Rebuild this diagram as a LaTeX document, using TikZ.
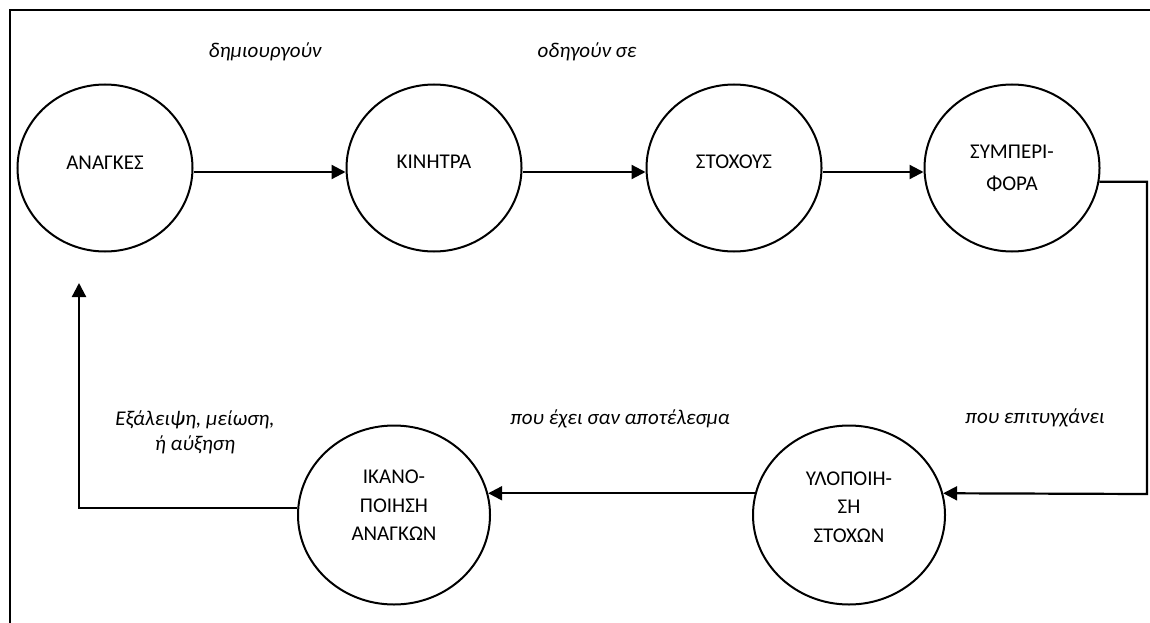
\documentclass[tikz,border=0pt]{standalone}
\usepackage{fontspec}
\setmainfont{Carlito}
\usetikzlibrary{arrows.meta,shapes.geometric}
\tikzset{
    bubble/.style={draw,line width=2pt,ellipse,inner sep=0pt,align=center,
        minimum width=175pt,minimum height=167pt,font=\fontsize{21}{28.5}\selectfont},
    big/.style={minimum width=192pt,minimum height=179pt},
    flow/.style={line width=2.2pt,-{Triangle[length=14pt,width=14pt]}},
    verb/.style={font=\fontsize{21}{25}\selectfont\itshape,align=center}
}
\begin{document}
\begin{tikzpicture}[x=1pt,y=-1pt]
    \useasboundingbox (0,0) rectangle (1150,623);
    \draw[line width=1.8pt] (10,623) -- (10,10) -- (1150,10);

    \node[bubble,text depth=10pt] (needs) at (105,168) {ΑΝΑΓΚΕΣ};
    \node[bubble,text depth=12pt] (drives) at (434,168) {ΚΙΝΗΤΡΑ};
    \node[bubble,text depth=12pt] (goals) at (734,168) {ΣΤΟΧΟΥΣ};
    \node[bubble,text depth=-24pt] (behav) at (1012,168) {ΣΥΜΠΕΡΙ-\\[4pt]ΦΟΡΑ};
    \node[bubble,big,text depth=16pt] (reach) at (849,515) {ΥΛΟΠΟΙΗ-\\ΣΗ\\ΣΤΟΧΩΝ};
    \node[bubble,big,text depth=19pt] (satis) at (394,515) {ΙΚΑΝΟ-\\ΠΟΙΗΣΗ\\ΑΝΑΓΚΩΝ};

    \coordinate (turnR) at (1147,494);
    \coordinate (tipL) at (79,283);

    \draw[flow] ([yshift=-4pt]needs.east) -- ([yshift=-4pt]drives.west);
    \draw[flow] ([yshift=-4pt]drives.east) -- ([yshift=-4pt]goals.west);
    \draw[flow] ([yshift=-4pt]goals.east) -- ([yshift=-4pt]behav.west);
    \draw[flow] (behav.-9) -| (turnR) -- (reach.13);
    \draw[flow] (reach.167) -- (satis.13);
    \draw[flow] (satis.176) -| (tipL);

    \node[verb] (create) at (265,52) {δημιουργούν};
    \node[verb] (lead) at (587,52) {οδηγούν σε};
    \node[verb] (achieve) at (1035,418) {που επιτυγχάνει};
    \node[verb] (result) at (620,419) {που έχει σαν αποτέλεσμα};
    \node[verb] (change) at (195,432) {Εξάλειψη, μείωση,\\ή αύξηση};
\end{tikzpicture}
\end{document}
